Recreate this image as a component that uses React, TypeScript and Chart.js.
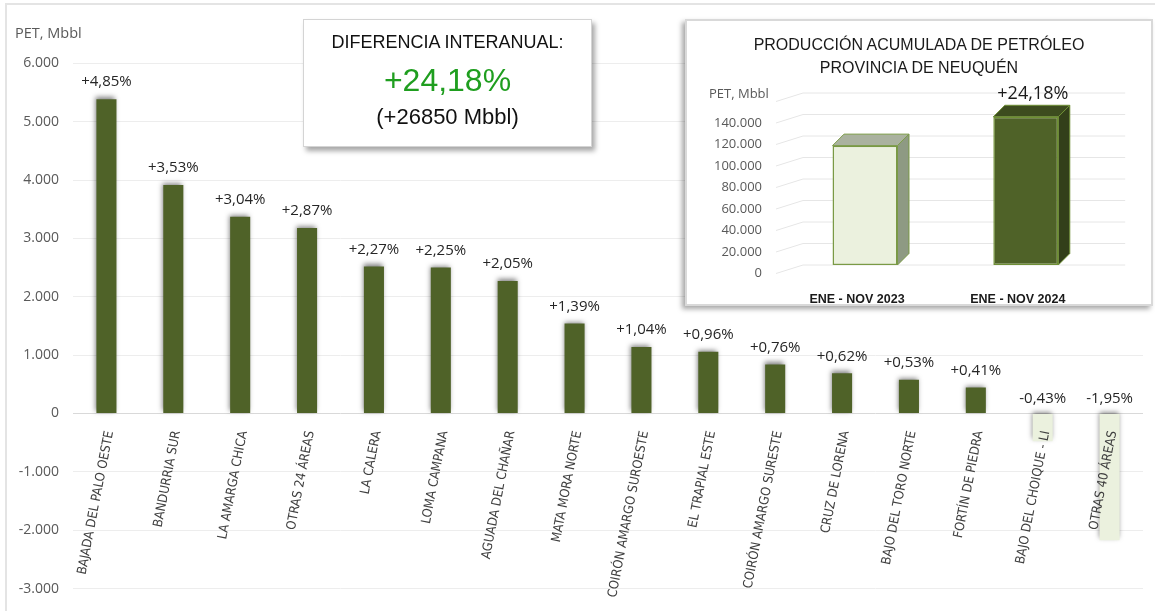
import React, { useEffect, useRef } from 'react';
import { Chart, registerables } from 'chart.js';

Chart.register(...registerables);

// ---------- main chart data ----------
const categories: string[] = [
  'BAJADA DEL PALO OESTE',
  'BANDURRIA SUR',
  'LA AMARGA CHICA',
  'OTRAS 24 ÁREAS',
  'LA CALERA',
  'LOMA CAMPANA',
  'AGUADA DEL CHAÑAR',
  'MATA MORA NORTE',
  'COIRÓN AMARGO SUROESTE',
  'EL TRAPIAL ESTE',
  'COIRÓN AMARGO SURESTE',
  'CRUZ DE LORENA',
  'BAJO DEL TORO NORTE',
  'FORTÍN DE PIEDRA',
  'BAJO DEL CHOIQUE - LI',
  'OTRAS 40 ÁREAS',
];
const differences: number[] = [5386, 3915, 3370, 3180, 2520, 2500, 2270, 1540, 1140, 1060, 840, 688, 580, 445, -476, -2170];
const pctLabels: string[] = [
  '+4,85%', '+3,53%', '+3,04%', '+2,87%', '+2,27%', '+2,25%', '+2,05%', '+1,39%',
  '+1,04%', '+0,96%', '+0,76%', '+0,62%', '+0,53%', '+0,41%', '-0,43%', '-1,95%',
];
const yMin = -3000;
const yMax = 6000;
const yStep = 1000;

// ---------- inset chart data ----------
const periods: string[] = ['ENE - NOV 2023', 'ENE - NOV 2024'];
const totals: number[] = [111042, 137892];
const totalLabels: string[] = ['', '+24,18%'];
const insetMax = 160000;
const insetStep = 20000;

const fmt = (v: number) => {
  const s = Math.abs(v).toString().replace(/\B(?=(\d{3})+(?!\d))/g, '.');
  return (v < 0 ? '-' : '') + s;
};

const POS = '#4f6228';
const NEG = '#ebf1de';

export default function App() {
  const mainRef = useRef<HTMLCanvasElement>(null);
  const insetRef = useRef<HTMLCanvasElement>(null);

  useEffect(() => {
    const shadowPlugin = {
      id: 'barShadow',
      beforeDatasetsDraw(chart: any) {
        const ctx = chart.ctx;
        ctx.save();
        ctx.shadowColor = 'rgba(0,0,0,0.5)';
        ctx.shadowBlur = 5;
        ctx.shadowOffsetX = -1;
        ctx.shadowOffsetY = -2;
      },
      afterDatasetsDraw(chart: any) {
        chart.ctx.restore();
      },
    };
    const labelPlugin = {
      id: 'valueLabels',
      afterDraw(chart: any) {
        const ctx = chart.ctx;
        const meta = chart.getDatasetMeta(0);
        const zero = chart.scales.y.getPixelForValue(0);
        ctx.save();
        ctx.font = '15px "Open Sans", sans-serif';
        ctx.fillStyle = '#262626';
        ctx.textAlign = 'center';
        ctx.textBaseline = 'middle';
        meta.data.forEach((bar: any, i: number) => {
          const v = differences[i];
          const y = v >= 0 ? bar.y - 17 : zero - 15;
          ctx.fillText(pctLabels[i], bar.x, y);
        });
        ctx.restore();
      },
    };

    const main = new Chart(mainRef.current!, {
      type: 'bar',
      data: {
        labels: categories,
        datasets: [
          {
            data: differences,
            backgroundColor: differences.map((v) => (v >= 0 ? POS : NEG)),
            borderWidth: 0,
            categoryPercentage: 1,
            barPercentage: 0.3,
          },
        ],
      },
      options: {
        responsive: false,
        animation: false,
        devicePixelRatio: 1,
        layout: { padding: { top: 63.3, right: 12, bottom: 21.7, left: 0 } },
        plugins: { legend: { display: false }, tooltip: { enabled: false } },
        scales: {
          x: {
            position: { y: 0 } as any,
            grid: { display: false },
            border: { display: false },
            ticks: {
              z: 1,
              autoSkip: false,
              minRotation: 79,
              maxRotation: 79,
              padding: 8,
              labelOffset: 3.5,
              color: '#404040',
              font: { family: "'Liberation Sans Narrow', 'DejaVu Sans Condensed', sans-serif", size: 13 },
            },
          },
          y: {
            min: yMin,
            max: yMax,
            afterFit: (s: any) => {
              s.width = 73;
            },
            border: { display: false },
            grid: {
              drawTicks: false,
              color: (c: any) => (c.tick && c.tick.value === 0 ? '#d9d9d9' : '#ededed'),
              lineWidth: 1,
            },
            ticks: {
              stepSize: yStep,
              padding: 14,
              color: '#595959',
              font: { family: "'Open Sans', sans-serif", size: 14 },
              callback: (v: any) => fmt(Number(v)),
            },
          },
        },
      },
      plugins: [shadowPlugin, labelPlugin],
    } as any);

    const gridPlugin = {
      id: 'grid3d',
      beforeDatasetsDraw(chart: any) {
        const ctx = chart.ctx;
        const y = chart.scales.y;
        const area = chart.chartArea;
        ctx.save();
        ctx.strokeStyle = '#e6e6e6';
        ctx.lineWidth = 1;
        for (let v = 0; v <= insetMax; v += insetStep) {
          const p = y.getPixelForValue(v);
          ctx.beginPath();
          ctx.moveTo(area.left - 8.6, p + 8.5);
          ctx.lineTo(area.left + 18.4, p);
          ctx.lineTo(area.right + 19, p);
          ctx.stroke();
        }
        ctx.restore();
      },
    };
    const sideColors = ['#8e9a83', '#333f1a'];
    const topColors = ['#aab29f', '#3d4c1f'];
    const edgeColors = ['#7a9a45', '#6f8f35'];
    const bar3dPlugin = {
      id: 'bar3d',
      afterDatasetsDraw(chart: any) {
        const ctx = chart.ctx;
        const meta = chart.getDatasetMeta(0);
        const d = 11.5;
        ctx.save();
        meta.data.forEach((bar: any, i: number) => {
          const l = bar.x - bar.width / 2;
          const r = bar.x + bar.width / 2;
          const t = bar.y;
          const b = bar.base;
          ctx.lineWidth = 1;
          ctx.strokeStyle = edgeColors[i];
          ctx.fillStyle = sideColors[i];
          ctx.beginPath();
          ctx.moveTo(r, t);
          ctx.lineTo(r + d, t - d);
          ctx.lineTo(r + d, b - d);
          ctx.lineTo(r, b);
          ctx.closePath();
          ctx.fill();
          ctx.stroke();
          ctx.fillStyle = topColors[i];
          ctx.beginPath();
          ctx.moveTo(l, t);
          ctx.lineTo(l + d, t - d);
          ctx.lineTo(r + d, t - d);
          ctx.lineTo(r, t);
          ctx.closePath();
          ctx.fill();
          ctx.stroke();
        });
        ctx.restore();
      },
      afterDraw(chart: any) {
        const ctx = chart.ctx;
        const meta = chart.getDatasetMeta(0);
        ctx.save();
        ctx.font = '18px "Open Sans", sans-serif';
        ctx.fillStyle = '#1a1a1a';
        ctx.textAlign = 'center';
        ctx.textBaseline = 'middle';
        meta.data.forEach((bar: any, i: number) => {
          if (totalLabels[i]) ctx.fillText(totalLabels[i], bar.x + 7, bar.y - 23);
        });
        ctx.restore();
      },
    };

    const inset = new Chart(insetRef.current!, {
      type: 'bar',
      data: {
        labels: periods,
        datasets: [
          {
            data: totals,
            backgroundColor: ['#ebf1de', '#4f6228'],
            borderColor: edgeColors,
            borderWidth: 1.5,
            borderSkipped: false,
            categoryPercentage: 1,
            barPercentage: 0.404,
          },
        ],
      },
      options: {
        responsive: false,
        animation: false,
        devicePixelRatio: 1,
        layout: { padding: { top: 74, right: 46.8, bottom: 0, left: 0 } },
        plugins: { legend: { display: false }, tooltip: { enabled: false } },
        scales: {
          x: {
            afterFit: (s: any) => {
              s.height = 41;
            },
            grid: { display: false },
            border: { display: false },
            ticks: {
              padding: 19,
              labelOffset: -8,
              color: '#1a1a1a',
              font: { family: "'Liberation Sans', sans-serif", size: 12.5, weight: 'bold' },
            },
          },
          y: {
            min: 0,
            max: insetMax,
            afterFit: (s: any) => {
              s.width = 99.6;
            },
            grid: { display: false, drawTicks: false },
            border: { display: false },
            ticks: {
              stepSize: insetStep,
              padding: 22.6,
              labelOffset: 8.5,
              color: '#595959',
              font: { family: "'Open Sans', sans-serif", size: 13 },
              callback: (v: any) => (Number(v) >= insetMax ? '' : fmt(Number(v))),
            },
          },
        },
      },
      plugins: [gridPlugin, bar3dPlugin],
    } as any);

    return () => {
      main.destroy();
      inset.destroy();
    };
  }, []);

  const abs = (o: React.CSSProperties): React.CSSProperties => ({ position: 'absolute', ...o });

  return (
    <div style={{ position: 'fixed', left: 0, top: 0, width: 1155, height: 611, background: '#fff', overflow: 'hidden' }}>
      <div style={abs({ left: 5, top: 3, width: 1300, height: 800, border: '2px solid #e4e4e4', boxSizing: 'border-box' })} />
      <canvas ref={mainRef} width={1155} height={611} style={abs({ left: 0, top: 0 })} />
      <div style={abs({ left: 15, top: 23, font: '14.5px "Open Sans", sans-serif', lineHeight: '20px', color: '#595959', whiteSpace: 'nowrap' })}>
        PET, Mbbl
      </div>

      {/* Diferencia interanual box */}
      <div
        style={abs({
          left: 303,
          top: 19,
          width: 289,
          height: 128,
          boxSizing: 'border-box',
          border: '1px solid #d4d4d4',
          background: '#fff',
          boxShadow: '3px 4px 5px rgba(0,0,0,0.35)',
        })}
      />
      <div style={abs({ left: 303, top: 30, width: 289, textAlign: 'center', font: '18px "Liberation Sans", sans-serif', lineHeight: '24px', color: '#111' })}>
        DIFERENCIA INTERANUAL:
      </div>
      <div style={abs({ left: 303, top: 62, width: 289, textAlign: 'center', font: '32px "Liberation Sans", sans-serif', lineHeight: '36px', color: '#1f9e1f' })}>
        +24,18%
      </div>
      <div style={abs({ left: 303, top: 104, width: 289, textAlign: 'center', font: '22px "Liberation Sans", sans-serif', lineHeight: '26px', color: '#111' })}>
        (+26850 Mbbl)
      </div>

      {/* Inset box */}
      <div
        style={abs({
          left: 685,
          top: 19,
          width: 468,
          height: 287,
          boxSizing: 'border-box',
          border: '2px solid #d9d9d9',
          background: '#fff',
          boxShadow: '-3px 3px 5px rgba(0,0,0,0.35)',
        })}
      />
      <canvas ref={insetRef} width={468} height={287} style={abs({ left: 685, top: 19 })} />
      <div style={abs({ left: 685, top: 35, width: 468, textAlign: 'center', font: '16px "Liberation Sans", sans-serif', lineHeight: '20px', color: '#1a1a1a' })}>
        PRODUCCIÓN ACUMULADA DE PETRÓLEO
      </div>
      <div style={abs({ left: 685, top: 58, width: 468, textAlign: 'center', font: '16px "Liberation Sans", sans-serif', lineHeight: '20px', color: '#1a1a1a' })}>
        PROVINCIA DE NEUQUÉN
      </div>
      <div style={abs({ left: 709, top: 84, font: '13px "Open Sans", sans-serif', lineHeight: '18px', color: '#595959', whiteSpace: 'nowrap' })}>
        PET, Mbbl
      </div>
    </div>
  );
}
